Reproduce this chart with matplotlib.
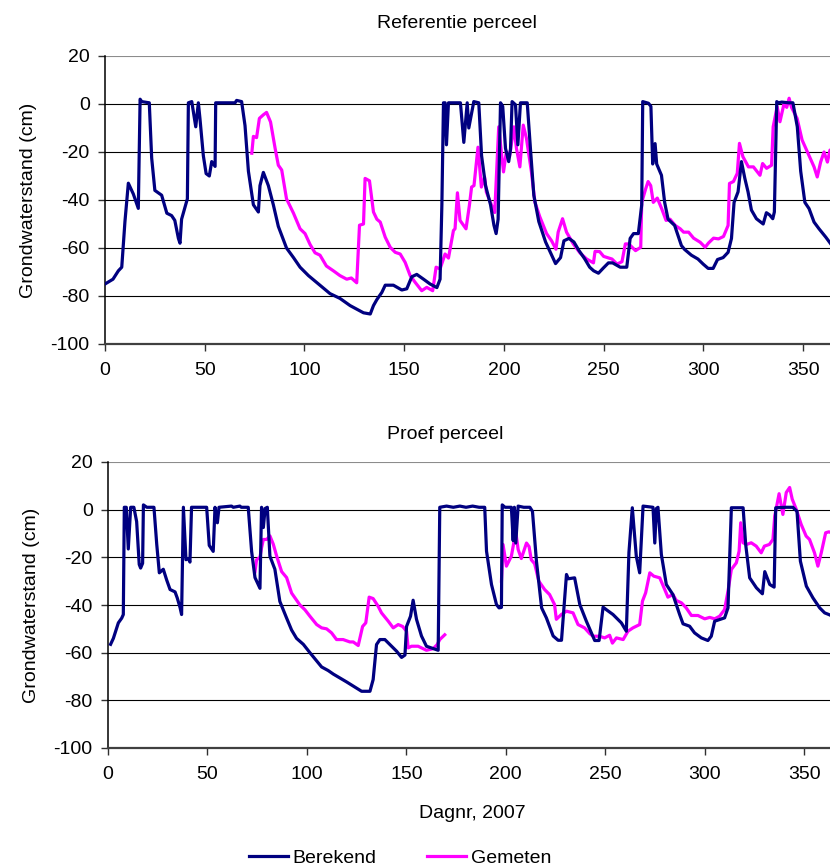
import numpy as np
import matplotlib
matplotlib.use("Agg")
import matplotlib.pyplot as plt

plt.rcParams['font.family'] = ['Liberation Sans', 'DejaVu Sans']
plt.rcParams['axes.unicode_minus'] = False
FS = 14

# ---------------- data: Referentie perceel ----------------
ref_ber_day = [0, 4, 6.7, 8.4, 10, 11.7, 14.2, 16.7, 17.6, 18.4, 22.2, 23.4, 25, 28.4, 31, 33.4, 35,
               36.8, 37.6, 38.4, 41.3, 41.8, 43.5, 45.5, 46.8, 47.6, 49.3, 50.7, 52.3, 53.5, 55.2, 55.5,
               65.2, 66, 68.5, 70.2, 71.9, 74.4, 76.9, 77.7, 79.4, 81.9, 84.4, 86.9, 91, 94.5, 97.8,
               102, 107.8, 112.8, 117.8, 122.9, 129.6, 133, 134.6, 136.3, 138.8, 140.5, 144.6, 148.8,
               151.3, 153.8, 156.3, 159.7, 163, 166.4, 168, 168.9, 169.7, 170.5, 171.2, 172.2, 178.2,
               179.9, 181.6, 182.4, 184.9, 187.4, 188.8, 190.8, 193.3, 195, 196.1, 197.1, 198.3, 199.4,
               200.8, 202.4, 203.3, 204.1, 205.8, 207, 208.3, 211.7, 213.3, 215, 217.5, 220.9, 223.4,
               225.9, 228.4, 230.1, 232.6, 235.1, 237.6, 240.5, 243, 245, 247.4, 249.9, 252.4, 254.5,
               258.3, 261.6, 263.3, 265, 267.4, 269.1, 269.6, 272.5, 273.7, 274.6, 275.8, 276.6, 279,
               280.6, 282.3, 285.6, 289, 290.6, 294, 297.3, 299.9, 302.4, 304.9, 307.1, 309.9, 312.4,
               314.1, 315.4, 317.4, 319.1, 320.8, 322.4, 324.1, 326.6, 330, 331.6, 333.2, 334.8, 335.6,
               336.8, 337.6, 339.3, 342.7, 344.9, 347.1, 348.8, 350.9, 353, 355.5, 358, 361.4, 363.6, 365]
ref_ber_val = [-75, -73, -69.5, -68, -49, -33, -37.5, -43.5, 2, 1, 0.5, -22.5, -36, -38, -45.5, -46.5, -48.5,
               -56, -58, -48, -39.5, 0.5, 1, -9.5, 0.5, -6, -21.5, -29, -30, -24, -26, 0.5,
               0.5, 1.5, 1, -9, -28, -42, -45, -34, -28.5, -34, -42, -51, -60, -64, -68,
               -71.5, -75.5, -79, -81, -84, -87, -87.5, -84, -81.5, -78.5, -75.5, -75.5, -77.5,
               -77, -72, -71, -73, -75, -76.5, -73, -42, 0.5, 0.5, -17, 0.5, 0.5,
               -16, 0.5, -10, 1, 0.5, -21.5, -34, -42, -50.5, -54, -48, 0.5, -1,
               -18.5, -24, -19, 1, -0.3, -17, 0.5, 0.5, -18.5, -38, -49, -57.5, -62,
               -66.5, -64, -57, -56, -57.5, -61, -64.5, -68, -69.5, -70.5, -68.3, -66.2, -66.2,
               -68, -68, -56, -54, -54, -42, 1, 0.3, -1, -25, -16.5, -25, -29.7,
               -41, -48, -50.6, -59, -60.6, -63, -64.6, -66.7, -68.5, -68.5, -64.8, -64, -61.8,
               -56, -41, -36.6, -24, -31, -36.6, -44.2, -47.8, -50, -45.3, -46.2, -47.8, -45,
               1, 0.5, 0.8, 0.5, 0.5, -9.5, -28, -41, -43.6, -49.2, -52, -55.5, -58, -59.5]

ref_gem_day = [73.6, 74.4, 76, 77.4, 79.4, 81, 83, 85.3, 86.9, 88.6, 91, 94.5, 97.8, 100.3, 102.8, 105.3,
               107.8, 111, 114.5, 117.8, 121.2, 123.5, 126.2, 127.6, 129.6, 130.4, 132.6, 134.6, 136.3,
               138, 140.5, 143, 145.5, 148, 150.5, 153, 155.5, 158.8, 161.3, 164.3, 166, 168, 170.5,
               172.2, 174.7, 175.5, 176.7, 178, 181, 182.7, 183.8, 185, 187, 188.7, 190.3, 191.2, 194.5,
               195.4, 197.4, 198.7, 199.8, 201.2, 202.8, 205, 206.3, 208, 209.7, 211.3, 213.8, 215.5,
               218, 221.4, 223.9, 226.1, 227.2, 229.4, 231.4, 234.8, 238.1, 241.5, 244.9, 245.7, 248,
               250, 254.2, 256.7, 259.2, 260.9, 262.6, 266, 268.6, 269.1, 271.1, 272.3, 273.6, 274.9,
               276.9, 279.1, 281.3, 283.3, 285.9, 288.4, 290.1, 292.6, 295.1, 298.4, 300.9, 302.6,
               305.1, 307.6, 310.1, 312.4, 313.1, 315.1, 317, 318.1, 319.8, 322.6, 325.1, 328.4, 329.7,
               331.7, 334.2, 335, 337, 338.4, 340.4, 341.8, 343, 344.2, 347, 349.5, 352.9, 355.5, 357.1,
               358.8, 360.5, 362.2, 363.5, 365]
ref_gem_val = [-20.5, -13.5, -14, -6, -4.5, -3.5, -7.5, -18.5, -25.5, -27.5, -39.5, -45.5, -52, -54, -58.5, -62,
               -63, -67.5, -69.5, -71.5, -73, -72.5, -74.5, -50.5, -50, -31, -32, -45, -48,
               -49.2, -55.5, -59.7, -61.8, -62.5, -66, -71.5, -74.3, -77.8, -76.4, -77.8, -68, -68.7, -62.5,
               -64.2, -52.7, -52, -37, -48.5, -52, -42.2, -34.6, -34, -18, -34.6, -30.4, -36.7, -43.6,
               -45.2, -9.5, -20, -28.3, -20, -22, -9.5, -18.5, -26.2, -8.8, -14.3, -28.3, -40.8,
               -47, -54, -57, -60.5, -53.4, -47.8, -53.4, -58.3, -62, -64.6, -66.2, -61.4, -61.5,
               -63.5, -64.6, -66.7, -65.7, -58.3, -58.3, -61.1, -59.7, -41, -35.3, -32.3, -34, -41,
               -39.2, -43.6, -48.5, -48, -50.6, -52, -53.4, -53.4, -55.9, -57.6, -59.7, -57.9,
               -55.9, -56.2, -55.2, -50.6, -33.1, -32.3, -28.9, -16.4, -21.9, -26.2, -26.2, -29.7, -24.8,
               -26.8, -25.5, -9.5, -1.1, -7.4, 0, -1.4, 2.4, -1.4, -6, -15, -21.3, -26.2, -30.4,
               -24.2, -20, -24.2, -19.2, -21]

# ---------------- data: Proef perceel ----------------
proef_ber_day = [1.3, 2.7, 4.4, 5.2, 6.9, 7.7, 8.2, 9.2, 10.2, 11.4, 13, 14.4, 15.7, 16.4, 17.4, 17.8, 19.5,
                 23.1, 24.5, 25.8, 27.8, 29.5, 31.2, 33.7, 34.8, 36.2, 37, 37.9, 39.2, 40.4, 41.2, 42,
                 49.6, 50.9, 52.9, 53.8, 55, 55.8, 62.1, 63, 66.3, 67, 70.5, 72.2, 73.9, 76.4, 77.2, 78.1,
                 79, 80.1, 81.4, 83.9, 86.4, 89.8, 92.3, 94.8, 98.2, 101.5, 104.9, 107.4, 110.7, 113.3,
                 116.6, 120, 123.3, 127.5, 131.7, 133.3, 135, 136.7, 139.2, 141.7, 145.1, 147.6, 149.3,
                 150.1, 152.1, 153.4, 155.1, 157.6, 160.1, 163.5, 166, 166.8, 170.2, 173.6, 176.9, 180,
                 183.3, 186.6, 189.4, 190.3, 192.8, 195.3, 196.6, 197.8, 198.2, 199.6, 202.8, 203.7,
                 204.3, 205, 206.2, 209, 212.1, 213.4, 215.4, 218, 220.4, 223.8, 226.3, 228, 229.1, 230.5,
                 231.4, 234.6, 237.2, 240.5, 244.7, 246.9, 248.9, 250.6, 253.9, 258.1, 260.6, 261.9,
                 263.6, 265.6, 267.3, 269, 274, 274.9, 275.7, 276.5, 278.2, 280.7, 284, 287.4, 289.1,
                 292.4, 294.9, 298.3, 301.6, 303.3, 305, 307.5, 310, 311.7, 313.4, 319.3, 320.6, 322.6,
                 326, 329, 330.2, 332.7, 334.9, 335.7, 340.9, 344.3, 346.4, 348.1, 351.1, 354.4, 357.8,
                 360.3, 362.4, 365]
proef_ber_val = [-56.5, -54, -49.5, -47.5, -45.5, -44, 1, 1, -16.5, 1, 1, -5, -23, -24.5, -22.5, 2, 1,
                 1, -14.5, -26.5, -25, -29.5, -33.5, -34.5, -37, -41, -44, 1, -21, -20.5, -22, 1,
                 1, -15, -17.5, 1, -5.5, 1, 1.5, 1, 1.5, 1, 1, -17.5, -28.5, -33, 1, -7.5,
                 0.5, 1, -19.5, -25, -38.5, -45.5, -50.5, -54, -56.5, -60, -63.5, -66, -67.5, -69,
                 -70.6, -72.3, -74, -76.2, -76.2, -71.3, -56.6, -54.5, -54.5, -56.6, -59.4, -62, -61,
                 -49, -44.7, -38, -46, -53, -57.3, -58.3, -59, 1, 1.5, 1, 1.5, 1,
                 1.5, 1, 1, -17.4, -31.4, -39.8, -41.2, -41, 2, 1, 1, -13,
                 1, -14, 1.5, 1, 1, -0.7, -21.6, -41.2, -45.4, -53, -54.8, -54.8, -42.6, -27.2,
                 -29, -28.6, -39.8, -46.8, -54.9, -54.9, -40.9, -42, -44, -47.5, -51, -18,
                 0.8, -19.5, -26.5, 1.5, 1, -14, 0.5, 1, -18.8, -31.4, -35.6, -44, -47.9,
                 -48.9, -51.7, -53.8, -54.9, -53.1, -46.8, -46.1, -45.4, -41.2, 0.8, 0.8, -14.6, -28.6,
                 -32.8, -35.3, -26, -31.4, -32.5, 0.8, 1, 1, -0.7, -21.6, -32.1, -37, -41.2,
                 -43.3, -44, -45]

proef_gem_day = [73.9, 74.7, 76.4, 77.2, 78.1, 79.8, 81.4, 83.1, 84.8, 87.3, 89.8, 92.3, 96.5, 99, 101.5,
                 104.9, 107.4, 109.9, 112.4, 114.9, 118.2, 121.6, 123.3, 125.8, 128, 129.6, 131.3, 133.3,
                 135.8, 137.5, 140.9, 143.4, 145.9, 148.1, 150.1, 150.9, 152.6, 155.9, 160.1, 163.5,
                 165.5, 166.8, 169.3, 183.0,
                 197.8, 198.6, 200.3, 202.8, 205, 206.2, 207.8, 210.4, 211.7, 212.8, 214.5, 216.6, 219.5,
                 222, 224.5, 225.4, 227.9, 230.5, 233.8, 236.3, 239.6, 242.2, 243.9, 247, 249.7, 252.2,
                 253.6, 255.6, 259, 261.4, 263.9, 267.3, 268.7, 270.3, 272.4, 274.4, 277.4, 279.9, 281.5,
                 284, 285.7, 288.3, 290.7, 293.3, 296.6, 300, 302.5, 305, 307.5, 310, 311.7, 313.4,
                 315.9, 317.3, 318.1, 319.3, 321, 323.4, 325.9, 328.4, 330, 332.5, 334.3, 335.2, 337.4,
                 339.3, 341, 342.7, 344, 346, 348.5, 351, 352.7, 355.2, 356.9, 358.6, 360.8, 362.4, 365]
proef_gem_val = [-26, -21, -20, -16, -12.5, -12.5, -11, -14.5, -19.5, -26, -28.5, -35, -40, -42, -44.7,
                 -48.2, -49.6, -50, -51.7, -54.5, -54.5, -55.5, -55.5, -57, -49, -47.5, -36.7, -37.3,
                 -40.5, -43.3, -46.8, -49.6, -48.2, -49, -51, -58, -57.3, -57.3, -59, -58.3,
                 -56.6, -54.5, -52.5, np.nan,
                 -30, -14.6, -23.7, -19.5, -9.3, -16.7, -20.5, -14, -15.5, -21, -22.7, -30, -33.5,
                 -35.6, -39.8, -46, -44, -42.6, -43.3, -48.2, -49.6, -52, -53.1, -53.1, -53.8, -52.7,
                 -56, -53.8, -54.5, -51, -49.6, -48.2, -38.4, -34.9, -26.5, -27.9, -28.6, -33.5, -36.7,
                 -35.6, -38.1, -39.1, -41.2, -44.4, -44.4, -45.8, -45.2, -45.8, -44.7, -41.9, -34.2, -25.1,
                 -22.3, -17.4, -5.5, -13.9, -14.6, -13.9, -15.3, -18.1, -15.3, -14.6, -12.5, -2.7, 6.7,
                 -2, 7.2, 9.3, 4.4, 0.2, -6.2, -11.1, -12.5, -18.1, -23.7, -18.1, -9.7, -9.3, -10]

titles = ["Referentie perceel", "Proef perceel"]
series_labels = ["Berekend", "Gemeten"]
y_ticks = [-100, -80, -60, -40, -20, 0, 20]
x_ticks = [0, 50, 100, 150, 200, 250, 300, 350]

C_BER = '#000080'
C_GEM = '#FF00FF'

W, H = 830, 867
fig = plt.figure(figsize=(W / 100, H / 100), dpi=100)

def px(x0, y_top, w, h):
    return [x0 / W, 1 - (y_top + h) / H, w / W, h / H]

ax1 = fig.add_axes(px(105, 56, 728, 288))
ax2 = fig.add_axes(px(108, 462, 726, 286))

panels = [(ax1, ref_ber_day, ref_ber_val, ref_gem_day, ref_gem_val),
          (ax2, proef_ber_day, proef_ber_val, proef_gem_day, proef_gem_val)]

for ax, bd, bv, gd, gv in panels:
    ax.plot(bd, bv, color=C_BER, lw=2.3, solid_joinstyle='round', label=series_labels[0], zorder=3)
    ax.plot(gd, gv, color=C_GEM, lw=2.3, solid_joinstyle='round', label=series_labels[1], zorder=2)
    ax.set_xlim(0, 365)
    ax.set_ylim(-100, 20)
    ax.set_yticks(y_ticks)
    ax.set_xticks(x_ticks)
    ax.yaxis.grid(True, color='black', lw=0.8)
    ax.set_axisbelow(True)
    gl = ax.get_ygridlines()
    gl[-1].set_color('#8c8c8c')
    for s in ['top', 'right']:
        ax.spines[s].set_visible(False)
    ax.spines['left'].set_color('black')
    ax.spines['left'].set_linewidth(1.1)
    ax.spines['bottom'].set_color('#404040')
    ax.spines['bottom'].set_linewidth(1.6)
    ax.tick_params(axis='both', direction='out', length=5, width=1, color='#303030',
                   labelsize=FS, labelcolor='black')
    ax.tick_params(axis='y', pad=6)
    ax.tick_params(axis='x', pad=8)
    ax.set_ylabel("Grondwaterstand (cm)", fontsize=FS)
    ax.yaxis.set_label_coords(-0.094, 0.5)

fig.text(457 / W, 1 - 28 / H, titles[0], ha='center', va='baseline', fontsize=FS)
fig.text(445 / W, 1 - 439 / H, titles[1], ha='center', va='baseline', fontsize=FS)
fig.text(472 / W, 1 - 818 / H, "Dagnr, 2007", ha='center', va='baseline', fontsize=FS)

handles, labels = ax2.get_legend_handles_labels()
fig.legend(handles, labels, loc='center', bbox_to_anchor=(400 / W, 1 - 858 / H), ncol=2,
           frameon=False, fontsize=FS, handlelength=2.0, handletextpad=0.25,
           columnspacing=2.6, borderpad=0.0)

fig.savefig('out.png', dpi=100)
